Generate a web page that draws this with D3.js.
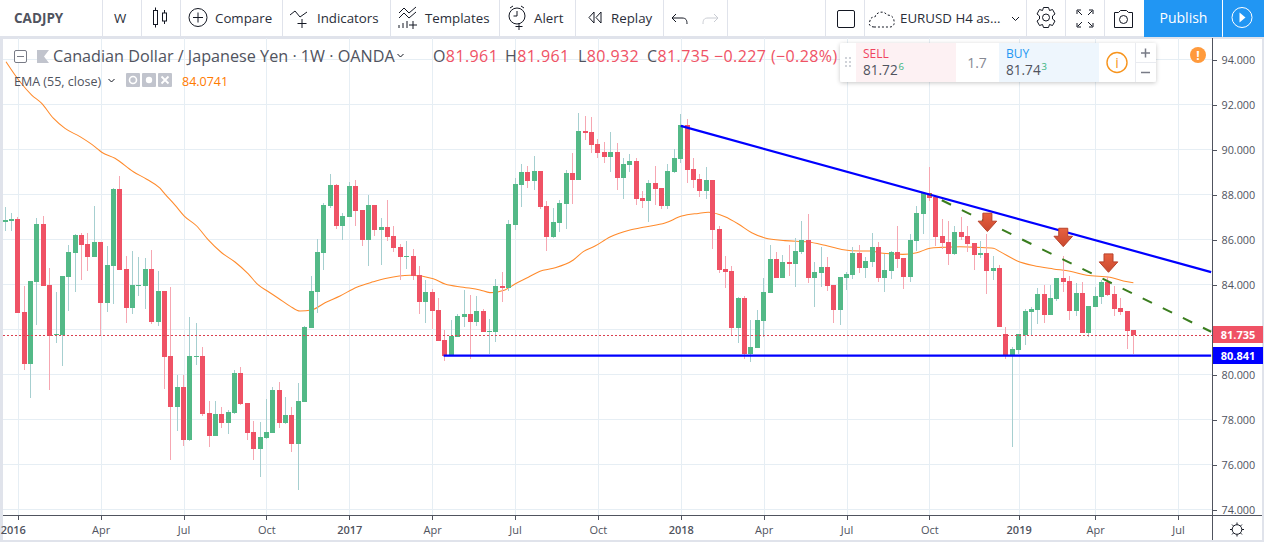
<!DOCTYPE html>
<html><head><meta charset="utf-8">
<script src="https://cdn.jsdelivr.net/npm/d3@7"></script>
<style>html,body{margin:0;padding:0;background:#fff;overflow:hidden}svg{display:block}text{font-family:"Open Sans",Roboto,sans-serif}</style>
</head><body><svg id="c" width="1264" height="542"></svg>
<script>
const opens=[86.77,86.81,86.90,82.77,80.46,84.10,86.68,83.97,81.75,81.75,
84.33,85.39,86.19,85.79,85.21,85.88,83.17,84.81,88.24,84.68,
82.95,83.93,83.93,84.68,82.33,83.70,80.81,78.55,79.44,77.08,
80.77,80.81,78.28,77.26,78.24,77.84,78.28,80.06,78.73,77.44,
76.68,77.17,77.39,79.30,77.84,78.19,76.90,78.77,82.06,83.66,
85.39,87.48,88.41,86.59,86.99,88.37,87.30,85.97,87.53,86.41,
86.55,86.15,85.66,85.21,85.26,84.41,83.21,83.66,82.86,81.53,
80.81,81.66,82.55,82.68,82.33,82.81,81.88,81.88,83.93,83.84,
86.64,88.41,88.99,88.59,89.04,87.48,86.10,86.73,87.57,88.95,
88.64,90.81,90.77,90.24,89.88,89.66,89.88,88.73,89.30,89.48,
87.84,87.70,88.50,88.28,87.48,88.99,89.57,91.08,89.13,88.68,
88.15,88.64,86.46,84.68,84.59,82.06,83.39,80.90,81.17,82.37,
83.61,85.13,84.28,84.99,84.90,85.44,85.97,84.28,84.50,84.77,
83.97,82.86,84.28,84.41,85.39,84.73,84.99,85.66,84.28,84.59,
85.44,85.17,84.33,85.93,87.13,88.06,87.88,86.15,85.88,85.35,
86.33,86.15,85.84,85.30,85.39,84.59,84.73,81.79,80.86,81.08,
81.75,82.77,82.86,83.57,82.64,83.35,84.28,84.15,82.81,83.61,
81.84,82.99,83.44,84.10,83.57,82.95,82.81,81.961];
const closes=[86.86,86.90,82.73,80.46,84.15,86.68,83.93,81.70,81.79,84.37,
85.44,86.19,85.75,85.21,85.88,83.17,84.86,88.24,84.64,82.95,
83.97,83.97,84.68,82.33,83.70,80.77,78.55,79.44,77.08,80.81,
80.81,78.24,77.26,78.24,77.84,78.33,80.06,78.68,77.39,76.68,
77.21,77.44,79.30,77.84,78.19,76.90,78.81,82.10,83.70,85.44,
87.53,88.41,86.59,87.04,88.37,87.26,85.97,87.53,86.41,86.55,
86.10,85.61,85.21,85.26,84.37,83.21,83.66,82.81,81.48,80.81,
81.70,82.59,82.68,82.33,82.81,81.88,81.93,83.93,83.84,86.68,
88.46,88.99,88.59,89.04,87.44,86.10,86.77,87.61,88.95,88.64,
90.81,90.73,90.19,89.84,89.66,89.88,88.73,89.35,89.48,87.79,
87.70,88.50,88.24,87.48,89.04,89.61,91.08,89.08,88.64,88.15,
88.64,86.41,84.64,84.55,82.06,83.39,80.90,81.21,82.41,83.66,
85.13,84.28,84.99,84.90,85.48,85.97,84.28,84.55,84.77,83.93,
82.86,84.33,84.46,85.39,84.73,85.04,85.66,84.28,84.64,85.44,
85.13,84.33,85.97,87.17,88.06,87.84,86.10,85.84,85.35,86.33,
86.10,85.79,85.30,85.39,84.59,84.73,82.10,80.86,81.13,81.79,
82.81,82.90,83.57,82.64,83.39,84.28,84.10,82.81,83.61,81.84,
83.04,83.48,84.10,83.53,82.90,82.77,81.93,81.735];
const highs=[87.44,87.17,86.99,83.93,84.15,86.95,87.04,84.73,83.66,84.37,
85.75,86.24,86.28,86.28,87.48,85.88,85.70,88.28,88.81,85.26,
85.48,85.21,85.17,85.53,84.59,83.70,83.88,79.97,79.97,82.55,
82.28,81.21,78.81,78.81,78.55,78.41,80.19,80.33,78.73,77.93,
77.88,78.91,79.44,79.66,78.99,78.55,79.61,82.15,84.37,86.01,
87.61,88.90,88.46,87.17,88.55,88.64,87.30,87.97,87.53,86.95,
87.75,86.59,85.79,85.93,85.57,84.81,84.19,83.79,83.39,81.97,
82.41,82.68,83.75,83.53,83.48,82.90,82.46,84.24,84.55,86.86,
88.73,89.35,89.26,89.70,89.04,87.70,87.39,87.75,89.08,89.84,
91.61,91.48,91.44,90.46,90.33,90.77,90.28,89.61,89.79,89.61,
88.15,88.64,89.26,88.28,89.35,90.01,91.57,91.35,89.61,88.90,
89.20,88.64,86.59,85.26,84.81,83.44,83.48,82.41,82.86,84.28,
85.75,85.44,85.30,85.75,86.06,86.81,87.13,84.99,85.66,85.21,
83.97,84.33,84.55,85.66,85.75,85.21,86.28,85.88,85.35,85.48,
86.59,85.17,86.24,87.48,88.10,89.21,87.88,86.90,86.81,86.59,
86.99,86.59,85.84,85.93,86.24,85.26,84.86,82.10,81.21,81.79,
82.90,82.99,83.84,83.97,83.97,84.28,85.26,84.37,84.06,84.10,
83.04,83.88,84.19,84.37,83.93,83.39,82.81,81.961];
const lows=[86.37,86.37,82.73,80.19,78.95,82.19,83.93,79.30,81.39,80.37,
82.81,83.66,84.19,84.59,85.21,81.75,82.77,83.13,84.64,82.28,
82.68,83.48,82.90,82.24,82.15,79.35,76.19,77.48,76.81,77.04,
80.41,78.15,76.77,77.26,77.61,77.35,78.24,78.64,77.08,76.19,
75.44,77.13,77.39,77.61,77.79,76.55,74.86,78.77,82.06,82.73,
84.64,87.39,86.46,85.97,86.99,86.59,85.70,84.81,86.15,84.86,
85.93,85.44,84.19,84.68,84.19,82.68,82.28,82.01,81.48,80.59,
80.81,81.66,82.10,80.68,82.15,81.88,80.90,81.44,83.21,83.70,
86.41,87.44,88.28,88.19,87.35,85.48,86.06,86.33,86.46,87.57,
88.64,90.41,89.84,89.61,89.39,88.99,88.19,87.79,88.99,87.53,
87.39,86.77,87.53,87.35,87.35,88.95,89.39,88.50,88.28,87.88,
87.79,85.57,84.50,83.84,81.75,81.39,80.68,80.55,81.17,81.66,
83.61,84.28,84.28,84.37,83.88,85.35,84.06,82.99,83.88,83.70,
82.28,82.19,83.75,84.24,84.50,84.28,84.77,84.10,83.66,84.24,
84.73,83.79,84.10,85.48,86.24,87.70,85.70,85.57,84.86,85.30,
85.97,85.44,84.64,85.17,83.57,84.19,82.10,80.68,76.77,80.90,
81.30,81.75,82.24,82.28,82.64,83.26,83.66,82.41,82.59,81.84,
81.66,82.99,83.13,83.48,82.59,82.64,81.13,80.932];

const emaIdx=[0.16,2.35,4.19,5.76,7.58,9.41,11.76,14.12,15.17,17.25,20.13,22.23,24.31,25.1,26.67,28.12,30.07,31.89,33.99,36.08,38.16,39.73,41.15,42.87,44.7,46.27,48.11,50.2,52.55,55.17,57.77,59.87,63.53,67.18,69.02,71.89,74.51,76.08,78.43,80,82.09,83.92,86,89.15,90.71,92.55,94.9,98.04,100.39,103.53,106.15,108.75,110.32,112.94,115.03,117.13,119.22,122.35,126,128.63,131.25,134.12,135.69,137.73,140.86,143.01,145.1,146.93,149.8,152.42,155.03,156.08,158.7,161.3,164.44,167.06,169.68,173.33,175.42,177];
const emaVal=[93.90,93.01,92.42,92.05,91.39,90.94,90.57,90.12,89.88,89.61,89.01,88.68,88.28,88.02,87.53,87.04,86.60,85.98,85.41,85.00,84.47,83.98,83.71,83.39,83.04,82.82,82.87,83.19,83.49,83.88,84.12,84.28,84.41,84.26,84.02,83.88,83.76,83.64,83.76,84.02,84.32,84.59,84.72,85.09,85.46,85.71,86.11,86.42,86.56,86.73,87.04,87.16,87.21,87.01,86.69,86.30,86.07,85.95,85.89,85.74,85.56,85.49,85.49,85.39,85.34,85.41,85.61,85.65,85.68,85.65,85.61,85.46,85.06,84.84,84.69,84.59,84.41,84.32,84.16,84.0741];

const priceTicks=[94,92,90,88,86,84,82,80,78,76,74];
const timeTickIdx=[2,15,28,41,54,67,80,93,106,119,132,145,159,171,184];
const timeTickLabels=["2016","Apr","Jul","Oct","2017","Apr","Jul","Oct","2018","Apr","Jul","Oct","2019","Apr","Jul"];
const resistanceIdx=[106,189.2], resistanceVal=[91.05,84.55];
const supportIdx=[68.8,189.2], supportVal=[80.841,80.841];
const dashedIdx=[145.1,189.2], dashedVal=[88.0,81.9];
const arrowIdx=[154.1,166,173.1], arrowVal=[87.17,86.50,85.36];
const lastPrice=81.735, supportPrice=80.841;
const toolbarLabels=[["CADJPY",14,1],["W",114,0],["Compare",215,0],["Indicators",317,0],["Templates",425,0],["Alert",534,0],["Replay",611,0],["EURUSD H4 as...",900,0]];
const toolbarSeps=[102,141,180,282,390,499,575,663,727,825,864,1026,1065,1104];

const svg=d3.select("#c");
const W=1212,B=515;
const x=d3.scaleLinear().domain([0,184]).range([5,5+184*6.375]);
const y=d3.scaleLinear().domain([88,76]).range([194.5,464.5]);
const grid="#e6eef4",up="#53b987",dn="#ef5265",upW="#a6cfd0",dnW="#f6a7b2",txt="#50535e";

const defs=svg.append("defs");
defs.append("clipPath").attr("id","pane").append("rect").attr("x",3).attr("y",38).attr("width",W-3).attr("height",B-38);
const gr=defs.append("linearGradient").attr("id","arr").attr("x1",0).attr("y1",0).attr("x2",0).attr("y2",1);
gr.append("stop").attr("offset",0).attr("stop-color","#e8613f");
gr.append("stop").attr("offset",1).attr("stop-color","#c9492f");
const sh=defs.append("filter").attr("id","sh").attr("x","-5%").attr("y","-20%").attr("width","110%").attr("height","150%");
sh.append("feDropShadow").attr("dx",0).attr("dy",1).attr("stdDeviation",2).attr("flood-color","#000").attr("flood-opacity",.22);

// frame
svg.append("rect").attr("width",1264).attr("height",542).attr("fill","#e0e3eb");
svg.append("rect").attr("x",0).attr("y",0).attr("width",1264).attr("height",36).attr("fill","#fff");
svg.append("rect").attr("x",3).attr("y",39).attr("width",1259).attr("height",501).attr("fill","#fff");

const pane=svg.append("g").attr("clip-path","url(#pane)");
// grid
const gg=pane.append("g").attr("shape-rendering","crispEdges");
gg.selectAll(".h").data(priceTicks).join("line").attr("x1",3).attr("x2",W).attr("y1",d=>Math.floor(y(d))+.5).attr("y2",d=>Math.floor(y(d))+.5).attr("stroke",grid);
gg.selectAll(".v").data(timeTickIdx).join("line").attr("y1",38).attr("y2",B).attr("x1",d=>Math.round(x(d))+.5).attr("x2",d=>Math.round(x(d))+.5).attr("stroke",grid);

// EMA
const emaLine=d3.line().x(d=>x(d[0])).y(d=>y(d[1])).curve(d3.curveMonotoneX);
pane.append("path").datum(d3.zip(emaIdx,emaVal)).attr("d",emaLine).attr("fill","none").attr("stroke","#ff8a2b").attr("stroke-width",1.05);

// candles
const idx=d3.range(opens.length);
const cg=pane.append("g").attr("shape-rendering","crispEdges");
cg.selectAll(".w").data(idx).join("rect").attr("x",i=>Math.round(x(i)-.5)).attr("width",1)
 .attr("y",i=>Math.round(y(highs[i]))).attr("height",i=>Math.max(1,Math.round(y(lows[i]))-Math.round(y(highs[i]))))
 .attr("fill",i=>closes[i]>=opens[i]?upW:dnW);
cg.selectAll(".b").data(idx).join("rect").attr("x",i=>Math.round(x(i)-2.5)).attr("width",5)
 .attr("y",i=>Math.round(y(Math.max(opens[i],closes[i]))))
 .attr("height",i=>Math.max(1,Math.round(y(Math.min(opens[i],closes[i])))-Math.round(y(Math.max(opens[i],closes[i])))))
 .attr("fill",i=>closes[i]>=opens[i]?up:dn);

// last price dotted
pane.append("line").attr("x1",3).attr("x2",W).attr("y1",Math.floor(y(lastPrice))+.5).attr("y2",Math.floor(y(lastPrice))+.5)
 .attr("stroke","#d9404f").attr("stroke-dasharray","2 2").attr("shape-rendering","crispEdges");

// drawings
const seg=(a,b)=>d3.line().x(d=>x(d[0])).y(d=>y(d[1]))(d3.zip(a,b));
pane.append("path").attr("d",seg(resistanceIdx,resistanceVal)).attr("stroke","#0000ff").attr("stroke-width",2.2).attr("fill","none");
pane.append("path").attr("d",seg(supportIdx,supportVal)).attr("stroke","#0000ff").attr("stroke-width",2.2).attr("fill","none");
pane.append("path").attr("d",seg(dashedIdx,dashedVal)).attr("stroke","#3a7d1e").attr("stroke-width",2).attr("fill","none").attr("stroke-dasharray","10.3 12.06").attr("stroke-dashoffset",-13.1);
pane.selectAll(".arrow").data(d3.zip(arrowIdx,arrowVal)).join("path")
 .attr("transform",d=>`translate(${x(d[0])},${y(d[1])})`)
 .attr("d","M-4.5 0H4.5V8H9.3L0 18.4L-9.3 8H-4.5Z").attr("fill","url(#arr)").attr("stroke","#b8412a").attr("stroke-width",1);

// right axis
const ya=d3.axisRight(y).tickValues(priceTicks).tickFormat(d3.format(".3f")).tickSize(4).tickPadding(5);
const yg=svg.append("g").attr("transform",`translate(${W+.5},0)`).call(ya);
yg.select(".domain").remove();
yg.selectAll("line").attr("stroke",txt).attr("shape-rendering","crispEdges");
yg.selectAll("text").attr("fill",txt).attr("font-size",10.8).attr("y",.8).style("font-family",'"Open Sans",sans-serif');
svg.append("line").attr("x1",W+.5).attr("x2",W+.5).attr("y1",38).attr("y2",540).attr("stroke",txt).attr("shape-rendering","crispEdges");

// bottom axis
const xa=d3.axisBottom(x).tickValues(timeTickIdx).tickFormat((d,i)=>timeTickLabels[i]).tickSize(4).tickPadding(6.5);
const xg=svg.append("g").attr("transform",`translate(0,${B+.5})`).call(xa);
xg.select(".domain").remove();
xg.selectAll("line").attr("stroke",txt).attr("shape-rendering","crispEdges");
xg.selectAll("text").attr("fill",txt).attr("font-size",11).style("font-family",'"Open Sans",sans-serif')
  .attr("font-weight",(d,i)=>/^\d/.test(timeTickLabels[i])?600:400);
xg.selectAll("text").filter(d=>d===2).attr("x",-5);
svg.append("line").attr("x1",3).attr("x2",1262).attr("y1",B+.5).attr("y2",B+.5).attr("stroke",txt).attr("shape-rendering","crispEdges");

// price tags
function tag(p,fill){
 const c=Math.round(y(p));
 svg.append("rect").attr("x",W+1).attr("y",c-9).attr("width",50).attr("height",17).attr("fill",fill);
 svg.append("text").attr("x",W+26).attr("y",c+3.5).attr("text-anchor","middle").attr("fill","#fff").attr("font-size",11).attr("font-weight",700).text(p.toFixed(3));
}
tag(lastPrice,dn); tag(supportPrice,"#0000ff");

// settings gear at bottom right
const s=svg.append("g").attr("transform","translate(1237,529.5)").attr("fill","none").attr("stroke","#131722").attr("stroke-width",1);
s.append("circle").attr("r",4.8);
d3.range(8).forEach(k=>{const a=k*Math.PI/4;s.append("line").attr("x1",Math.cos(a)*5).attr("y1",Math.sin(a)*5).attr("x2",Math.cos(a)*7).attr("y2",Math.sin(a)*7)});

// toolbar
svg.append("g").attr("shape-rendering","crispEdges").selectAll("line").data(toolbarSeps).join("line")
 .attr("x1",d=>d+.5).attr("x2",d=>d+.5).attr("y1",0).attr("y2",36).attr("stroke","#e0e3eb");
svg.append("g").selectAll("text").data(toolbarLabels).join("text")
 .attr("x",d=>d[1]).attr("y",22.5).attr("font-size",d=>d[2]?13.5:13.3).attr("font-weight",d=>d[2]?700:400).attr("fill",d=>d[2]?"#50535e":"#2a2e39").text(d=>d[0]);
const ic=svg.append("g").attr("fill","none").attr("stroke","#131722").attr("stroke-width",1);
// candle icon
ic.append("path").attr("d","M155.5 7.5v3M155.5 24.5v3M164.5 10v3M164.5 21v3").attr("stroke-width",1);
ic.append("rect").attr("x",153.5).attr("y",10.5).attr("width",4).attr("height",14);
ic.append("rect").attr("x",162.5).attr("y",13).attr("width",4).attr("height",8);
// compare
ic.append("circle").attr("cx",198).attr("cy",17.5).attr("r",9);
ic.append("path").attr("d","M198 12.5v10M193 17.5h10");
// indicators
ic.append("path").attr("d","M290 15l5-4 5 6 7-5M302 19v9M297.5 23.5h9");
// templates
ic.append("path").attr("d","M399 13l5-5 5 5 7-6M399 18l5-5 5 5 7-6M399 28v-3M403 28v-5M407 28v-7M413 21v8M409 25h8");
// alert
ic.append("circle").attr("cx",517).attr("cy",16).attr("r",8);
ic.append("path").attr("d","M517 11v5h-3.5M510 8l3-2M524 8l-3-2M519 23v7M515.5 26.5h7");
// replay
ic.append("path").attr("d","M594 12l-5 5.5 5 5.5zM601 12l-5 5.5 5 5.5z");
// undo/redo
ic.append("path").attr("d","M676 14l-4 4 4 4M672 18h10c4 0 5 2 5 6");
ic.append("path").attr("d","M714 14l4 4-4 4M718 18h-10c-4 0-5 2-5 6").attr("stroke","#c9ccd3");
// square
ic.append("rect").attr("x",837.5).attr("y",10.5).attr("width",17).attr("height",17).attr("rx",1.5);
// cloud
ic.append("path").attr("d","M874 27c-4 0-6-3-4-6 0-3 2-4 5-4 1-5 9-7 12-2 4 0 7 2 7 6 1 3-1 6-4 6z").attr("stroke-dasharray","2 2");
// chevron
ic.append("path").attr("d","M1012 17l3.5 3.5 3.5-3.5");
// settings
ic.append("circle").attr("cx",1046).attr("cy",17.5).attr("r",3.5);
ic.append("path").attr("d","M1043.5 7.5h5l1 3 3-1 2.5 4.5-2.5 2v3l2.5 2-2.5 4.5-3-1-1 3h-5l-1-3-3 1-2.5-4.5 2.5-2v-3l-2.5-2 2.5-4.5 3 1z");
// fullscreen
ic.append("path").attr("d","M1077 14v-4h4M1093 14v-4h-4M1077 23v4h4M1093 23v4h-4M1078 11l4 4M1092 11l-4 4M1078 26l4-4M1092 26l-4-4");
// camera
ic.append("path").attr("d","M1114.5 12.5h4l2-2h6l2 2h4v15h-18z");
ic.append("circle").attr("cx",1123.5).attr("cy",19.5).attr("r",4);
// publish
svg.append("rect").attr("x",1144).attr("y",0).attr("width",78).attr("height",37).attr("fill","#2196f3");
svg.append("rect").attr("x",1223).attr("y",0).attr("width",41).attr("height",37).attr("fill","#2196f3");
svg.append("text").attr("x",1183.5).attr("y",23).attr("text-anchor","middle").attr("fill","#fff").attr("font-size",14).text("Publish");
svg.append("circle").attr("cx",1242).attr("cy",17.5).attr("r",10).attr("fill","none").attr("stroke","#fff");
svg.append("path").attr("d","M1239.5 12.5l6 5-6 5z").attr("fill","#fff");

// legend
const lg=svg.append("g");
lg.append("rect").attr("x",14.5).attr("y",50.5).attr("width",12).attr("height",12).attr("rx",1.5).attr("fill","#fff").attr("stroke","#787b86");
lg.append("line").attr("x1",17).attr("x2",24).attr("y1",56.5).attr("y2",56.5).attr("stroke","#787b86");
lg.append("path").attr("d","M37 50h12l-5 6.5 5 6.5H37z").attr("fill","#c1c4cd");
lg.append("text").attr("x",53).attr("y",61.5).attr("font-size",16.2).attr("fill","#50535e").text("Canadian Dollar / Japanese Yen · 1W · OANDA");
lg.append("path").attr("d","M397.5 54l3 3 3-3").attr("fill","none").attr("stroke","#131722");
[["O","81.961",433],["H","81.961",505],["L","80.932",578],["C","81.735",647]].forEach(d=>{
 const t=lg.append("text").attr("x",d[2]).attr("y",61.5).attr("font-size",16).attr("letter-spacing",.4).attr("fill","#50535e");
 t.append("tspan").text(d[0]);
 t.append("tspan").attr("fill",dn).text(d[1]);
});
lg.append("text").attr("x",714).attr("y",61.5).attr("font-size",16).attr("letter-spacing",.4).attr("fill",dn).text("−0.227 (−0.28%)");
lg.append("text").attr("x",14).attr("y",85.5).attr("font-size",12.5).attr("fill","#50535e").text("EMA (55, close)");
lg.append("path").attr("d","M108.5 79l3 3 3-3").attr("fill","none").attr("stroke","#131722");
[126,142,158].forEach(a=>lg.append("rect").attr("x",a).attr("y",73).attr("width",14).attr("height",14).attr("rx",1).attr("fill","#c1c4cd"));
lg.append("circle").attr("cx",133).attr("cy",80).attr("r",3.5).attr("fill","none").attr("stroke","#fff").attr("stroke-width",1.6);
lg.append("circle").attr("cx",149).attr("cy",80).attr("r",3.2).attr("fill","#fff");
lg.append("path").attr("d","M161.5 76.5l7 7M168.5 76.5l-7 7").attr("stroke","#fff").attr("stroke-width",1.8);
lg.append("text").attr("x",182).attr("y",85.5).attr("font-size",12.5).attr("fill","#ff7a00").text("84.0741");

// order widget
const o=svg.append("g");
o.append("rect").attr("x",840).attr("y",43).attr("width",316).attr("height",39).attr("rx",2).attr("fill","#fff").attr("filter","url(#sh)");
o.append("rect").attr("x",856).attr("y",43).attr("width",100).attr("height",39).attr("fill","#fdf1f3");
o.append("rect").attr("x",999).attr("y",43).attr("width",100).attr("height",39).attr("fill","#eef6fd");
o.selectAll(".grip").data(d3.range(6)).join("circle").attr("cx",d=>846+(d%2)*4).attr("cy",d=>58+Math.floor(d/2)*4).attr("r",1).attr("fill","#c1c4cd");
o.append("line").attr("x1",1135.5).attr("x2",1135.5).attr("y1",43).attr("y2",82).attr("stroke","#e9ebf0");
o.append("line").attr("x1",1135.5).attr("x2",1156).attr("y1",62.5).attr("y2",62.5).attr("stroke","#e9ebf0");
o.append("text").attr("x",863).attr("y",58).attr("font-size",12).attr("fill","#f0445f").text("SELL");
o.append("text").attr("x",863).attr("y",74.5).attr("font-size",13.6).attr("fill","#50535e").text("81.72");
o.append("text").attr("x",898.5).attr("y",69.5).attr("font-size",9.5).attr("fill","#36b37e").text("6");
o.append("text").attr("x",977).attr("y",68).attr("font-size",14).attr("text-anchor","middle").attr("fill","#868993").text("1.7");
o.append("text").attr("x",1006).attr("y",58).attr("font-size",12).attr("fill","#2196f3").text("BUY");
o.append("text").attr("x",1006).attr("y",74.5).attr("font-size",13.6).attr("fill","#50535e").text("81.74");
o.append("text").attr("x",1041.5).attr("y",69.5).attr("font-size",9.5).attr("fill","#36b37e").text("3");
o.append("circle").attr("cx",1117).attr("cy",62.5).attr("r",10).attr("fill","none").attr("stroke","#f7941d").attr("stroke-width",1.4);
o.append("text").attr("x",1117).attr("y",67.5).attr("text-anchor","middle").attr("font-size",14).attr("fill","#f7941d").text("i");
o.append("path").attr("d","M1141 53h9M1145.5 48.5v9M1141 72.5h9").attr("stroke","#787b86").attr("stroke-width",1.5);
svg.append("circle").attr("cx",1198).attr("cy",55).attr("r",8).attr("fill","#ff9a3c");
svg.append("text").attr("x",1198).attr("y",59.5).attr("text-anchor","middle").attr("font-size",12).attr("font-weight",700).attr("fill","#fff").text("!");
</script></body></html>
